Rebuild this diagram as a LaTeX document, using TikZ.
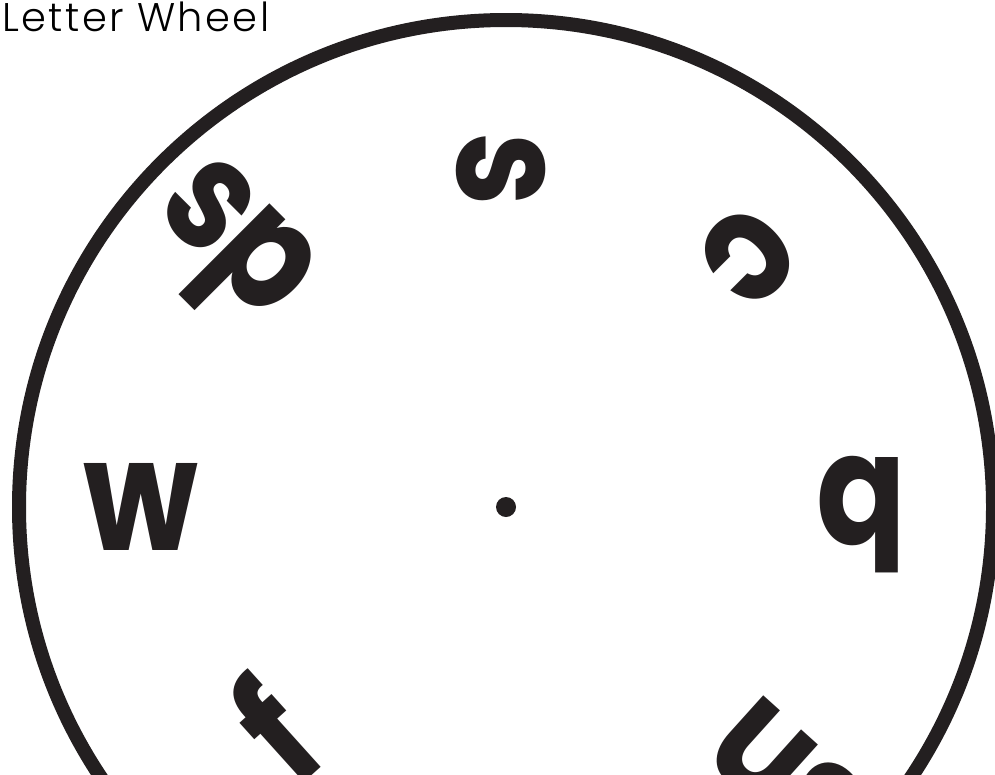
\documentclass[tikz,border=0pt]{standalone}
\usepackage{fontspec}
\setmainfont{Poppins}
\newfontfamily\wheelfont{Poppins Bold}[FakeStretch=0.85]
\newfontfamily\titlefont{Poppins Light}[LetterSpace=6]
\usetikzlibrary{positioning}
\definecolor{inkgray}{RGB}{35,31,32}

\begin{document}
\begin{tikzpicture}[x=1pt, y=-1pt,
  letter/.style={font=\wheelfont\fontsize{156}{156}\selectfont, text=inkgray, inner sep=0pt}]
  \useasboundingbox (0,0) rectangle (995,774);
  \clip (0,0) rectangle (995,774);

  % wheel rim and hub
  \coordinate (hub) at (506,507);
  \draw[inkgray, line width=14pt] (hub) circle (487pt);
  \fill[inkgray] (hub) circle (10pt);

  \node[anchor=base west, inner sep=0pt, font=\titlefont\fontsize{40}{40}\selectfont, text=black] (title) at (2,31) {Letter Wheel};

  % letters round the wheel
  \foreach \ltr/\px/\py/\rot [count=\i] in {w/141/507/0, s\kern-3pt p/226/250/-45, s/501/169/-90, c/748/257/-135,
      b/861/515/180, s\kern-3pt n/789/777/138, f/273/728/42} {
    \node[letter, rotate=\rot] (ltr\i) at (\px,\py) {\ltr};
  }
\end{tikzpicture}
\end{document}
